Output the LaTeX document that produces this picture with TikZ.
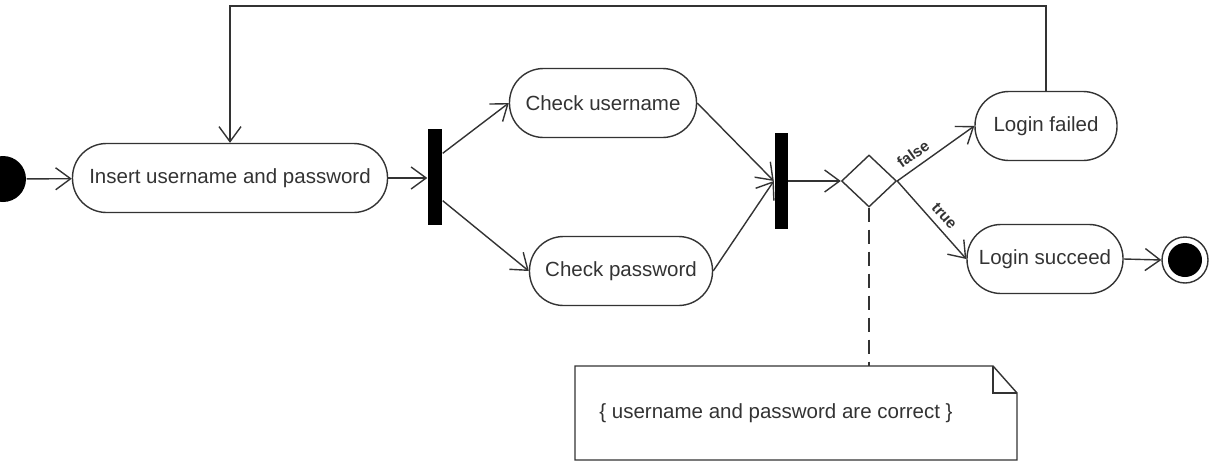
\documentclass[tikz,border=0pt]{standalone}
\usepackage{fontspec}
\setmainfont{Liberation Sans}
\usetikzlibrary{arrows.meta,shapes.geometric}

\begin{document}
\begin{tikzpicture}[x=1pt,y=-1pt,line width=1.4pt,black!80,
    act/.style={draw,rectangle,rounded corners=34pt,minimum height=69pt,inner sep=0pt,
      font=\fontsize{20.5}{24}\selectfont},
    bar/.style={fill=black,draw=none,minimum width=14pt,minimum height=96pt,inner sep=0pt},
    arr/.style={-{Straight Barb[length=15pt,width=22pt,line width=1.4pt]}},
    guard/.style={font=\bfseries\fontsize{15.5}{18}\selectfont,sloped,above=3pt}]
      \useasboundingbox (0,0) rectangle (1212,466);
      \node[circle,fill=black,minimum size=46pt,inner sep=0pt] (start) at (3,179) {};
      \node[act,minimum width=315pt] (insert) at (230,178) {Insert username and password};
      \node[bar] (fork) at (435,177) {};
      \node[act,minimum width=187pt] (chkuser) at (603,103) {Check username};
      \node[act,minimum width=183pt] (chkpass) at (621,271) {Check password};
      \node[bar,minimum width=13pt] (join) at (781,181) {};
      \node[diamond,draw,minimum width=55pt,minimum height=52pt,inner sep=0pt] (dec) at (869,181) {};
      \node[act,minimum width=142pt] (failed) at (1046,126) {Login failed};
      \node[act,minimum width=156pt] (succeed) at (1045,259) {Login succeed};
      \node[circle,draw,minimum size=46pt,inner sep=0pt] (final) at (1185,260) {};
      \node[circle,fill=black,minimum size=34pt,inner sep=0pt] at (final) {};
      \draw (575,366) -- (993,366) -- (1017,393) -- (1017,460) -- (575,460) -- cycle;
      \draw (993,366) -- (993,393) -- (1017,393);
      \coordinate (notetop) at (869,366);
      \node[font=\fontsize{20.5}{24}\selectfont] (note) at (776,413) {\{ username and password are correct \}};
      \draw[arr] (start) -- (insert);
      \draw[arr] (insert) -- (insert -| fork.west);
      \draw[arr] ([yshift=-25pt]fork.north east) -- (chkuser.west);
      \draw[arr] ([yshift=25pt]fork.south east) -- (chkpass.west);
      \draw[arr] (chkuser.east) -- (join.west);
      \draw[arr] (chkpass.east) -- (join.west);
      \draw[arr] (join.east) -- (dec.west);
      \draw[arr] (dec.east) -- node[guard,pos=0.3] {false} (failed.west);
      \draw[arr] (dec.east) -- node[guard,pos=0.55] {true} (succeed.west);
      \draw[arr] (succeed.east) -- (final.west);
      \draw[arr] (failed.north) -- ++(0,-85) -| (insert.north);
      \draw[dashed,dash pattern=on 14pt off 8pt] (dec.south) -- (notetop);
    \end{tikzpicture}
\end{document}
